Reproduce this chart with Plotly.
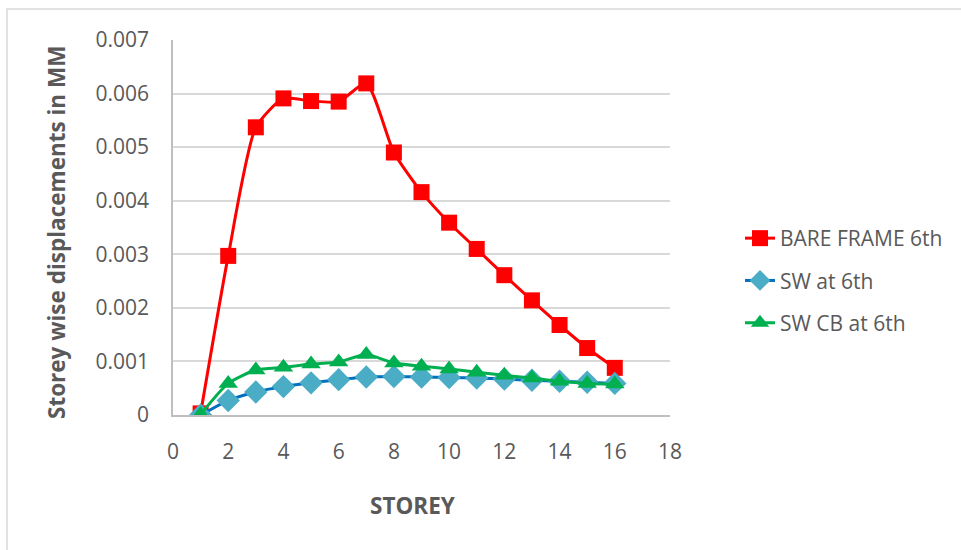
import plotly.graph_objects as go

storey = list(range(1, 17))
bare_frame = [0.00003, 0.00297, 0.00537, 0.00591, 0.00586, 0.00585, 0.00619, 0.00490,
              0.00416, 0.00359, 0.00310, 0.00261, 0.00214, 0.00168, 0.00125, 0.00088]
sw_6th = [0.0, 0.00027, 0.00043, 0.00053, 0.00060, 0.00066, 0.00071, 0.00072,
          0.00071, 0.00070, 0.00069, 0.00067, 0.00065, 0.00063, 0.00061, 0.00059]
sw_cb_6th = [0.00001, 0.00059, 0.00084, 0.00089, 0.00095, 0.00099, 0.00113, 0.00097,
             0.00091, 0.00086, 0.00080, 0.00074, 0.00069, 0.00063, 0.00059, 0.00058]
y_ticks = [0, 0.001, 0.002, 0.003, 0.004, 0.005, 0.006, 0.007]
y_labels = ["0", "0.001", "0.002", "0.003", "0.004", "0.005", "0.006", "0.007"]
x_ticks = list(range(0, 19, 2))

FONT = "'Open Sans', 'Noto Sans', sans-serif"
GRAY = "#595959"

fig = go.Figure()
fig.add_trace(go.Scatter(x=storey, y=bare_frame, name="BARE FRAME 6th", mode="lines+markers",
                         line=dict(color="#FF0000", width=3, shape="spline", smoothing=0.6),
                         marker=dict(symbol="square", size=16, color="#FF0000"),
                         legendgroup="a"))
fig.add_trace(go.Scatter(x=storey, y=sw_6th, name="SW at 6th", mode="lines+markers",
                         line=dict(color="#0070C0", width=3, shape="spline", smoothing=0.6),
                         marker=dict(symbol="diamond", size=18, color="#4BACC6"),
                         legendgroup="b"))
fig.add_trace(go.Scatter(x=storey, y=sw_cb_6th, name="SW CB at 6th", mode="lines+markers",
                         line=dict(color="#00B050", width=3, shape="spline", smoothing=0.6),
                         marker=dict(symbol="triangle-up", size=17, color="#00B050"),
                         legendgroup="c"))

L, R, T, B = 173, 291, 40, 135
W, H = 961, 550
pw, ph = W - L - R, H - T - B

def px_x(p):
    return (p - L) / pw

def px_y(p):
    return (H - B - p) / ph

fig.update_layout(
    width=W, height=H,
    margin=dict(l=L, r=R, t=T, b=B),
    paper_bgcolor="white", plot_bgcolor="white",
    font=dict(family=FONT, size=21, color=GRAY),
    showlegend=True,
    legend=dict(x=px_x(740), y=px_y(218), xanchor="left", yanchor="top",
                font=dict(size=21, color=GRAY), tracegroupgap=12,
                bgcolor="rgba(0,0,0,0)"),
    xaxis=dict(range=[0, 18], tickvals=x_ticks, showgrid=False, zeroline=False,
               showline=True, linecolor="#BFBFBF", linewidth=1.5, ticks="",
               ticklabelstandoff=17,
               tickfont=dict(size=21, color=GRAY)),
    yaxis=dict(range=[0, 0.007], tickvals=y_ticks, ticktext=y_labels,
               showgrid=True, gridcolor="#D9D9D9", gridwidth=1.5, zeroline=False,
               showline=True, linecolor="#BFBFBF", linewidth=1.5, ticks="",
               ticklabelstandoff=18,
               tickfont=dict(size=21, color=GRAY)),
    shapes=[dict(type="rect", xref="paper", yref="paper",
                 x0=px_x(7), x1=px_x(1200), y0=px_y(800), y1=px_y(9),
                 line=dict(color="#D9D9D9", width=1.5), layer="below")],
    annotations=[
        dict(text="<b>Storey wise displacements in MM</b>", xref="paper", yref="paper",
             x=px_x(57), y=px_y(233), textangle=-90, showarrow=False,
             font=dict(size=22.5, color=GRAY), xanchor="center", yanchor="middle"),
        dict(text="<b>STOREY</b>", xref="paper", yref="paper",
             x=px_x(413), y=px_y(505), showarrow=False,
             font=dict(size=22.5, color=GRAY), xanchor="center", yanchor="middle"),
    ],
)

fig.write_html("out.html")
